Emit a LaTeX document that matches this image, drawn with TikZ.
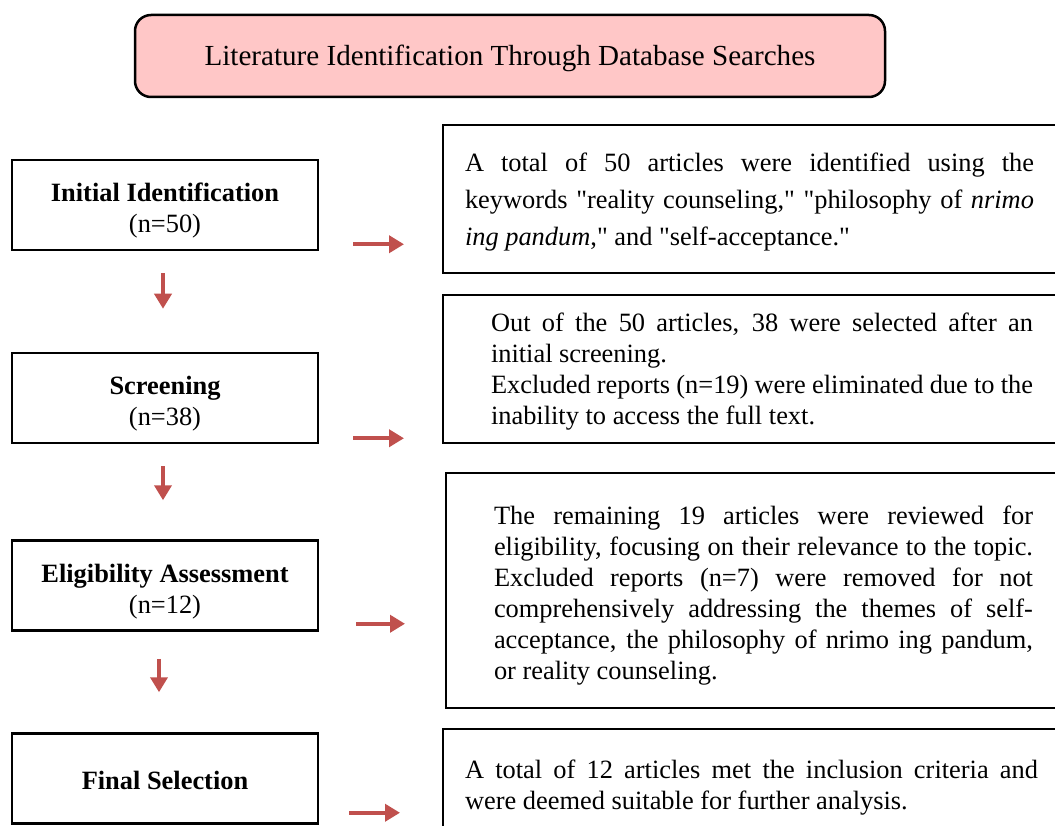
\documentclass[tikz,border=0pt]{standalone}
\usepackage{fontspec}
\setmainfont{Liberation Serif}[Ligatures=TeXOff]
\usetikzlibrary{arrows.meta}
\definecolor{headpink}{HTML}{FFC7C7}
\definecolor{arrowred}{HTML}{C0504D}
\newcommand{\lift}[1]{\rule{0pt}{#1}}

\begin{document}
\begin{tikzpicture}[x=1pt,y=-1pt,
    stage/.style={draw,line width=2.5pt,minimum width=306pt,minimum height=90pt,
      align=center,inner sep=0pt,font=\fontsize{26.4}{31}\selectfont},
    note/.style={draw,line width=2.5pt,anchor=north west,inner ysep=0pt,outer sep=0pt,
      align=justify,font=\fontsize{26.4}{31}\selectfont},
    flow/.style={draw=arrowred,line width=4pt,-{Triangle[length=15pt,width=17pt]}}]
    \useasboundingbox (0,0) rectangle (1055,826);
    \clip (0,0) rectangle (1055,826);
    % heading
    \node[draw,line width=2.5pt,fill=headpink,rounded corners=16pt,
      minimum width=750pt,minimum height=82pt,
      font=\fontsize{29.1}{34}\selectfont] (head) at (510,56)
      {\lift{26pt}Literature Identification Through Database Searches};
    % stages on the left
    \node[stage] (init) at (165,205) {\lift{30pt}\textbf{Initial Identification}\\(n=50)};
    \node[stage] (screen) at (165,398) {\lift{30pt}\textbf{Screening}\\(n=38)};
    \node[stage] (elig) at (165,585.5) {\lift{30pt}\textbf{Eligibility Assessment}\\(n=12)};
    \node[stage] (final) at (165,778.5) {\lift{22pt}\textbf{Final Selection}};
    % notes on the right
    \node[note,inner xsep=22pt,text width=569pt,minimum height=148pt,
      font=\fontsize{26.4}{37}\selectfont] (initnote) at (443,125)
      {\lift{24.5pt}A total of 50 articles were identified using the\linebreak
       keywords "reality counseling," "philosophy of \textit{nrimo}\linebreak
       \textit{ing pandum}," and "self-acceptance."};
    \node[note,inner xsep=48pt,text width=542pt,minimum height=148pt] (screennote) at (443,295)
      {\lift{24.5pt}Out of the 50 articles, 38 were selected after an\linebreak
       initial screening.\par
       Excluded reports (n=19) were eliminated due to the\linebreak
       inability to access the full text.};
    \node[note,inner xsep=48pt,text width=539pt,minimum height=235pt] (elignote) at (446,473)
      {\lift{29.5pt}The remaining 19 articles were reviewed for\linebreak
       eligibility, focusing on their relevance to the topic.\linebreak
       Excluded reports (n=7) were removed for not\linebreak
       comprehensively addressing the themes of self-\linebreak
       acceptance, the philosophy of nrimo ing pandum,\linebreak
       or reality counseling.};
    \node[note,inner xsep=22pt,text width=573pt,minimum height=111pt] (finalnote) at (443,729)
      {\lift{24.5pt}A total of 12 articles met the inclusion criteria and\linebreak
       were deemed suitable for further analysis.};
    % arrows down
    \draw[flow] ([shift={(-2,22)}]init.south) -- ([shift={(-2,-43)}]screen.north);
    \draw[flow] ([shift={(-2,22)}]screen.south) -- ([shift={(-2,-39)}]elig.north);
    \draw[flow] ([shift={(-6,27)}]elig.south) -- ([shift={(-6,-40)}]final.north);
    % arrows across
    \draw[flow] ([shift={(34,-7)}]init.south east) coordinate (a1)
      -- ([xshift=-39pt]initnote.west |- a1);
    \draw[flow] ([shift={(34,-6)}]screen.south east) coordinate (a2)
      -- ([xshift=-39pt]screennote.west |- a2);
    \draw[flow] ([shift={(37,-8)}]elig.south east) coordinate (a3)
      -- ([xshift=-41pt]elignote.west |- a3);
    \draw[flow] ([shift={(30,-12)}]final.south east) coordinate (a4)
      -- ([xshift=-43pt]finalnote.west |- a4);
\end{tikzpicture}
\end{document}
